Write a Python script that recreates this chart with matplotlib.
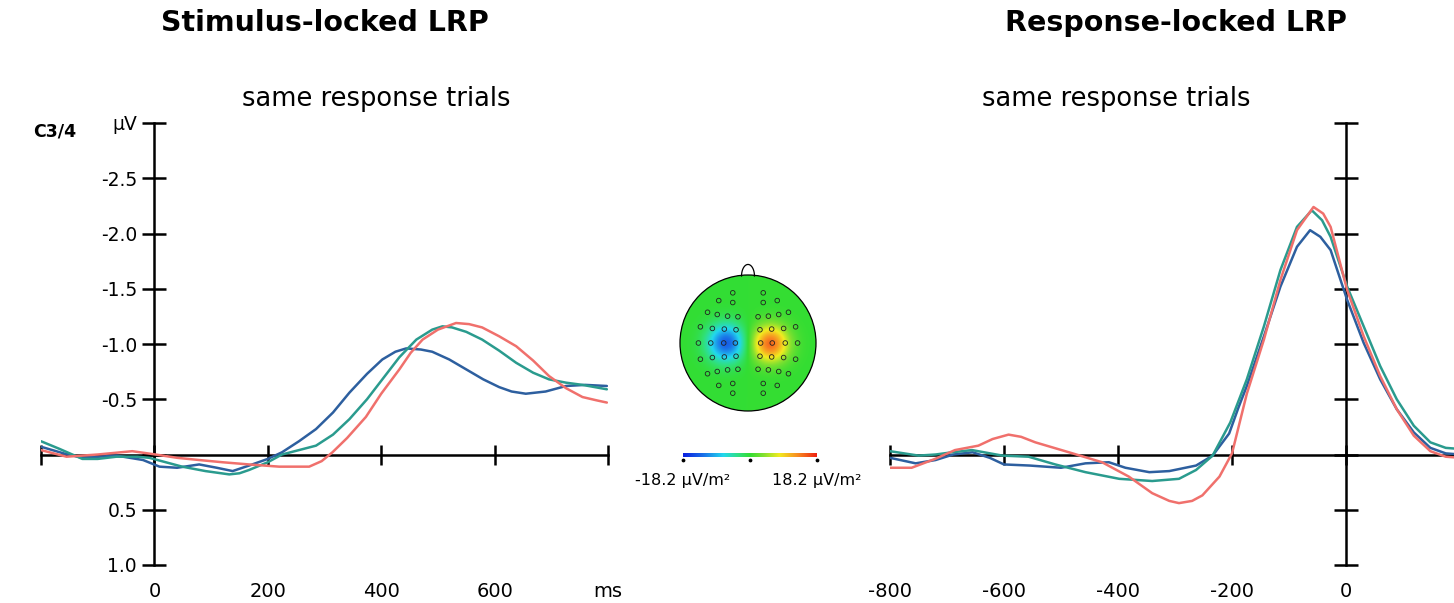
import numpy as np
import matplotlib
matplotlib.use("Agg")
import matplotlib.pyplot as plt
from matplotlib.colors import LinearSegmentedColormap
from matplotlib.patches import Circle
from matplotlib.ticker import FixedLocator, FixedFormatter
import matplotlib.transforms as mtransforms

plt.rcParams['font.family'] = ['DejaVu Sans']

# ---------------- data ----------------
# Stimulus-locked LRP (ms, µV)
stim_blue_t = [-200, -160, -127, -67, -20, 9, 40, 79, 110, 138, 167, 200, 225, 255, 285, 315, 344, 375,
               402, 425, 444, 470, 490, 520, 550, 580, 608, 630, 655, 690, 726, 760, 798]
stim_blue_v = [-0.07, -0.01, 0.03, 0.01, 0.05, 0.11, 0.12, 0.09, 0.12, 0.15, 0.10, 0.04, -0.02, -0.12,
               -0.23, -0.38, -0.56, -0.73, -0.86, -0.93, -0.96, -0.95, -0.93, -0.86, -0.77, -0.68, -0.61,
               -0.57, -0.55, -0.57, -0.62, -0.63, -0.62]
stim_teal_t = [-200, -167, -127, -100, -67, -30, -9, 20, 49, 90, 132, 150, 167, 200, 225, 255, 285, 315,
               344, 375, 402, 432, 462, 490, 508, 525, 550, 578, 608, 638, 668, 696, 726, 755, 798]
stim_teal_v = [-0.12, -0.05, 0.04, 0.04, 0.02, 0.02, 0.03, 0.07, 0.11, 0.15, 0.18, 0.17, 0.14, 0.07, 0.0,
               -0.04, -0.08, -0.18, -0.32, -0.50, -0.68, -0.88, -1.04, -1.13, -1.16, -1.15, -1.11, -1.04,
               -0.94, -0.83, -0.74, -0.68, -0.65, -0.63, -0.59]
stim_red_t = [-200, -155, -100, -39, 2, 40, 79, 120, 167, 220, 273, 295, 314, 340, 373, 400, 432, 452,
              473, 500, 532, 555, 578, 608, 638, 668, 696, 726, 755, 780, 798]
stim_red_v = [-0.04, 0.02, 0.0, -0.03, 0.0, 0.03, 0.05, 0.07, 0.09, 0.11, 0.11, 0.06, -0.02, -0.15, -0.34,
              -0.55, -0.77, -0.92, -1.04, -1.13, -1.19, -1.18, -1.15, -1.07, -0.98, -0.85, -0.71, -0.60,
              -0.52, -0.49, -0.47]

# Response-locked LRP (ms, µV)
resp_blue_t = [-800, -755, -720, -689, -655, -625, -600, -555, -500, -457, -416, -387, -345, -310, -263,
               -234, -205, -189, -174, -144, -115, -86, -63, -45, -27, 2, 31, 60, 89, 119, 148, 175, 200]
resp_blue_v = [0.03, 0.08, 0.05, 0.0, -0.02, 0.03, 0.09, 0.10, 0.12, 0.08, 0.07, 0.12, 0.16, 0.15, 0.10,
               0.01, -0.19, -0.42, -0.62, -1.07, -1.52, -1.88, -2.03, -1.97, -1.85, -1.40, -1.01, -0.68,
               -0.41, -0.20, -0.06, -0.01, 0.0]
resp_teal_t = [-800, -750, -720, -691, -656, -603, -557, -510, -457, -398, -340, -293, -263, -234, -203,
               -174, -144, -115, -86, -60, -42, -27, 2, 31, 60, 89, 119, 148, 175, 200]
resp_teal_v = [-0.03, 0.01, 0.0, -0.02, -0.04, 0.01, 0.02, 0.09, 0.16, 0.22, 0.24, 0.22, 0.14, 0.01, -0.29,
               -0.68, -1.16, -1.67, -2.06, -2.21, -2.12, -1.97, -1.52, -1.16, -0.80, -0.50, -0.26, -0.11,
               -0.06, -0.05]
resp_red_t = [-800, -762, -721, -686, -645, -620, -592, -570, -545, -486, -428, -381, -340, -310, -293,
              -270, -252, -222, -200, -174, -144, -115, -86, -57, -40, -27, 2, 31, 60, 89, 119, 148, 175, 200]
resp_red_v = [0.12, 0.12, 0.04, -0.04, -0.08, -0.14, -0.18, -0.16, -0.11, -0.02, 0.07, 0.20, 0.35, 0.42,
              0.44, 0.42, 0.37, 0.20, -0.01, -0.55, -1.04, -1.58, -2.03, -2.24, -2.18, -2.06, -1.49, -1.07,
              -0.71, -0.41, -0.17, -0.03, 0.02, 0.03]

y_ticks = [-3.0, -2.5, -2.0, -1.5, -1.0, -0.5, 0.0, 0.5, 1.0]
y_ticklabels = ['µV', '-2.5', '-2.0', '-1.5', '-1.0', '-0.5', '', '0.5', '1.0']
stim_xticks = [-200, 0, 200, 400, 600, 800]
stim_xlabel_pos = [0, 200, 400, 600, 800]
stim_xlabels = ['0', '200', '400', '600', 'ms']
resp_xticks = [-800, -600, -400, -200, 0, 200]
resp_xlabel_pos = [-800, -600, -400, -200, 0]
resp_xlabels = ['-800', '-600', '-400', '-200', '0']

# topography: electrode positions (left hemisphere, head units; mirrored for right)
elec_left_x = [-0.224, -0.43, -0.224, -0.595, -0.452, -0.30, -0.148, -0.70, -0.524, -0.348, -0.176,
               -0.729, -0.548, -0.357, -0.186, -0.70, -0.524, -0.348, -0.176, -0.595, -0.452, -0.30,
               -0.148, -0.43, -0.224, -0.224]
elec_left_y = [0.738, 0.624, 0.595, 0.452, 0.419, 0.395, 0.386, 0.238, 0.214, 0.205, 0.195,
               0.0, 0.0, 0.0, 0.0, -0.238, -0.214, -0.205, -0.195, -0.452, -0.419, -0.395,
               -0.386, -0.624, -0.595, -0.738]
blob_x = [-0.32, 0.33]
blob_y = [0.0, -0.01]
blob_amp = [-0.76, 0.80]
blob_sigma = [0.19, 0.19]
cbar_labels = ['-18.2 µV/m²', '18.2 µV/m²']

c_blue = '#2d5f9f'
c_teal = '#2a9b8e'
c_red = '#f0706c'

W, H = 1454, 603
fig = plt.figure(figsize=(W / 100, H / 100), dpi=100)


def fx(px):
    return px / W


def fy(py):
    return 1 - py / H


def make_erp_axes(x0_px, x1_px, xlim, xticks, xlabel_pos, xlabels, show_ylabels, series):
    y_top, y_bot = 123, 565
    ax = fig.add_axes([fx(x0_px), fy(y_bot), (x1_px - x0_px) / W, (y_bot - y_top) / H])
    ax.set_xlim(*xlim)
    ax.set_ylim(1.0, -3.0)
    for k in ['top', 'right']:
        ax.spines[k].set_visible(False)
    ax.spines['left'].set_position(('data', 0))
    ax.spines['bottom'].set_position(('data', 0))
    for k in ['left', 'bottom']:
        ax.spines[k].set_linewidth(1.8)
    ax.xaxis.set_major_locator(FixedLocator(xticks))
    ax.yaxis.set_major_locator(FixedLocator(y_ticks))
    ax.yaxis.set_major_formatter(FixedFormatter(y_ticklabels))
    ax.tick_params(axis='x', direction='inout', length=15, width=1.8, labelbottom=False)
    ax.tick_params(axis='y', direction='inout', length=17, width=1.8, labelsize=13.5, pad=4,
                   labelleft=show_ylabels)
    ax.patch.set_visible(False)
    trans = mtransforms.blended_transform_factory(ax.transData, ax.transAxes)
    for p, lab in zip(xlabel_pos, xlabels):
        ax.text(p, -0.059, lab, transform=trans, ha='center', va='center', fontsize=14)
    for t, v, c in series:
        ax.plot(t, v, color=c, lw=1.8, solid_capstyle='round', solid_joinstyle='round', zorder=3)
    return ax


ax1 = make_erp_axes(41, 608, (-200, 800), stim_xticks, stim_xlabel_pos, stim_xlabels, True,
                    [(stim_blue_t, stim_blue_v, c_blue), (stim_teal_t, stim_teal_v, c_teal),
                     (stim_red_t, stim_red_v, c_red)])
ax2 = make_erp_axes(890, 1460, (-800, 200), resp_xticks, resp_xlabel_pos, resp_xlabels, False,
                    [(resp_blue_t, resp_blue_v, c_blue), (resp_teal_t, resp_teal_v, c_teal),
                     (resp_red_t, resp_red_v, c_red)])

# titles and texts
fig.text(fx(325), fy(23), 'Stimulus-locked LRP', ha='center', va='center', fontsize=20.5, fontweight='bold')
fig.text(fx(1176), fy(23), 'Response-locked LRP', ha='center', va='center', fontsize=20.5, fontweight='bold')
fig.text(fx(376), fy(99), 'same response trials', ha='center', va='center', fontsize=18.5)
fig.text(fx(1116), fy(99), 'same response trials', ha='center', va='center', fontsize=18.5)
fig.text(fx(55), fy(131), 'C3/4', ha='center', va='center', fontsize=12.5, fontweight='bold')

# ---------------- topography ----------------
cmap = LinearSegmentedColormap.from_list('topo', [
    (0.0, '#0a1ee0'), (0.15, '#1a70e8'), (0.3, '#22d8ee'), (0.42, '#30e07c'),
    (0.5, '#33dd33'), (0.6, '#80e030'), (0.72, '#f2ec20'), (0.86, '#f88a22'), (1.0, '#ee2010')])

R_px = 68
cx_px, cy_px = 748, 343
box = 80
axt = fig.add_axes([fx(cx_px - box), fy(cy_px + box), 2 * box / W, 2 * box / H])
axt.set_xlim(-box / R_px, box / R_px)
axt.set_ylim(-box / R_px, box / R_px)
axt.axis('off')
g = np.linspace(-1, 1, 300)
X, Y = np.meshgrid(g, g)
field = np.zeros_like(X)
for bx, by, ba, bs in zip(blob_x, blob_y, blob_amp, blob_sigma):
    field += ba * np.exp(-((X - bx) ** 2 + (Y - by) ** 2) / (2 * bs ** 2))
im = axt.imshow(field, extent=[-1, 1, -1, 1], origin='lower', cmap=cmap, vmin=-1, vmax=1,
                interpolation='bilinear')
head = Circle((0, 0), 1.0, transform=axt.transData, facecolor='none', edgecolor='black', lw=0.9)
im.set_clip_path(Circle((0, 0), 1.0, transform=axt.transData))
axt.add_patch(head)
# nose
th = np.linspace(0, np.pi, 60)
nose_x = 0.095 * np.cos(th)
nose_y = 0.985 + 0.17 * np.sin(th)
axt.plot(nose_x, nose_y, color='black', lw=0.9)
ex = np.array(elec_left_x)
ey = np.array(elec_left_y)
axt.scatter(np.concatenate([ex, -ex]), np.concatenate([ey, ey]), s=11, facecolors='none',
            edgecolors='#222222', linewidths=0.6, zorder=4)

# colorbar
axc = fig.add_axes([fx(683), fy(457), (817 - 683) / W, 4 / H])
axc.imshow(np.linspace(-1, 1, 256)[None, :], aspect='auto', cmap=cmap, vmin=-1, vmax=1,
           extent=[0, 1, 0, 1])
axc.set_xlim(0, 1)
axc.set_ylim(0, 1)
axc.axis('off')
axc.scatter([0, 0.5, 1], [-0.7, -0.7, -0.7], s=3, color='black', clip_on=False)
fig.text(fx(683), fy(480), cbar_labels[0], ha='center', va='center', fontsize=11.5)
fig.text(fx(817), fy(480), cbar_labels[1], ha='center', va='center', fontsize=11.5)

fig.savefig('out.png', dpi=100)
